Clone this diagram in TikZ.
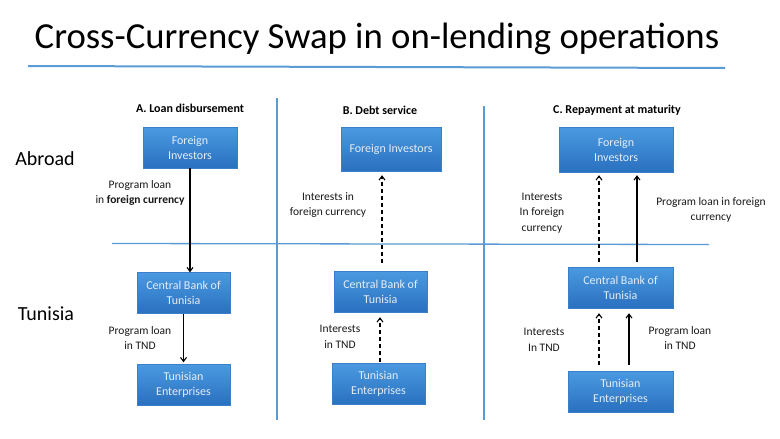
\documentclass[tikz,border=0pt]{standalone}
\usepackage{fontspec}
\setmainfont{Carlito}
\usetikzlibrary{arrows.meta}
\definecolor{rulec}{HTML}{5B9BD5}
\definecolor{boxtop}{HTML}{4A9AE0}
\definecolor{boxbot}{HTML}{2A70C0}
\definecolor{boxedge}{HTML}{3A7FC8}
\definecolor{boxtxt}{HTML}{E4EDF8}
\tikzset{
  box/.style={draw=boxedge, top color=boxtop, bottom color=boxbot, text=boxtxt,
    align=center, font=\fontsize{12}{15}\selectfont, minimum height=41pt, inner sep=2pt},
  lbl/.style={align=center, font=\fontsize{11.5}{15.5}\selectfont, text=black!90},
  head/.style={font=\bfseries\fontsize{12}{14}\selectfont},
  arr/.style={-{Straight Barb[length=4pt,width=6pt]}, line width=1.1pt},
  darr/.style={arr, dash pattern=on 4pt off 3pt},
  sep/.style={rulec, line width=1.3pt}
}
\begin{document}
\begin{tikzpicture}[x=1pt,y=-1pt]
\useasboundingbox[fill=white] (0,0) rectangle (780,439);
\node[font=\fontsize{36.7}{42}\selectfont] (title) at (377,39){Cross-Currency Swap in on-lending operations};
\draw[rulec, line width=2pt] (28,66) -- (725,68);
\draw[sep] (277,98) -- (277,420);
\draw[sep] (484,106) -- (484,420);
\draw[sep] (112,243.5) -- (709,244.5);
\node[font=\fontsize{20}{24}\selectfont] (abroad) at (45,159){Abroad};
\node[font=\fontsize{20}{24}\selectfont] (tunisia) at (46,314){Tunisia};
% A. loan disbursement
\node[head] (headA) at (190,108){A. Loan disbursement};
\node[box, minimum width=94pt] (inv0) at (190,147.5){Foreign\\Investors};
\node[box, minimum width=93pt] (cbt0) at (183.5,293){Central Bank of\\Tunisia};
\node[box, minimum width=93pt] (ent0) at (183.5,384.5){Tunisian\\Enterprises};
\draw[arr] (inv0.south) -- (inv0.south |- cbt0.north);
\draw[arr, shorten >=1.5pt] (cbt0.south) -- (ent0.north);
\node[lbl] (lblA0) at (140,193){Program loan\\in \textbf{foreign currency}};
\node[lbl] (lblA1) at (140,338){Program loan\\in TND};
% B. debt service
\node[head] (headB) at (380,110){B. Debt service};
\node[box, minimum width=100pt, minimum height=44pt] (inv1) at (391,149){Foreign Investors};
\node[box, minimum width=93pt] (cbt1) at (380.5,291.5){Central Bank of\\Tunisia};
\node[box, minimum width=93pt] (ent1) at (378.5,384){Tunisian\\Enterprises};
\draw[darr, shorten <=8pt, shorten >=4pt] ([xshift=1.5pt]cbt1.north) -- ([xshift=1.5pt]cbt1.north |- inv1.south);
\draw[darr, shorten <=1pt, shorten >=5pt] ([xshift=1.5pt]ent1.north) -- ([xshift=1.5pt]ent1.north |- cbt1.south);
\node[lbl] (lblB0) at (328,205){Interests in\\foreign currency};
\node[lbl] (lblB1) at (340,337){Interests\\in TND};
% C. repayment at maturity
\node[head] (headC) at (617,110){C. Repayment at maturity};
\node[box, minimum width=114pt, minimum height=45pt] (inv2) at (616,149.5){Foreign\\Investors};
\node[box, minimum width=105pt] (cbt2) at (620.5,287.5){Central Bank of\\Tunisia};
\node[box, minimum width=105pt] (ent2) at (620.5,391.5){Tunisian\\Enterprises};
\draw[darr, shorten <=5pt, shorten >=3pt] ([xshift=-21.5pt]cbt2.north) -- ([xshift=-21.5pt]cbt2.north |- inv2.south);
\draw[arr, shorten <=5pt, shorten >=3pt] ([xshift=16.5pt]cbt2.north) -- ([xshift=16.5pt]cbt2.north |- inv2.south);
\draw[darr, shorten <=6pt, shorten >=5pt] ([xshift=-21.5pt]ent2.north) -- ([xshift=-21.5pt]ent2.north |- cbt2.south);
\draw[arr, shorten <=6pt, shorten >=5pt] ([xshift=8.5pt]ent2.north) -- ([xshift=8.5pt]ent2.north |- cbt2.south);
\node[lbl] (lblC0) at (542,213){Interests\\In foreign\\currency};
\node[lbl] (lblC1) at (711,210){Program loan in foreign\\currency};
\node[lbl] (lblC2) at (544,340){Interests\\In TND};
\node[lbl] (lblC3) at (680,338){Program loan\\in TND};
\end{tikzpicture}
\end{document}
